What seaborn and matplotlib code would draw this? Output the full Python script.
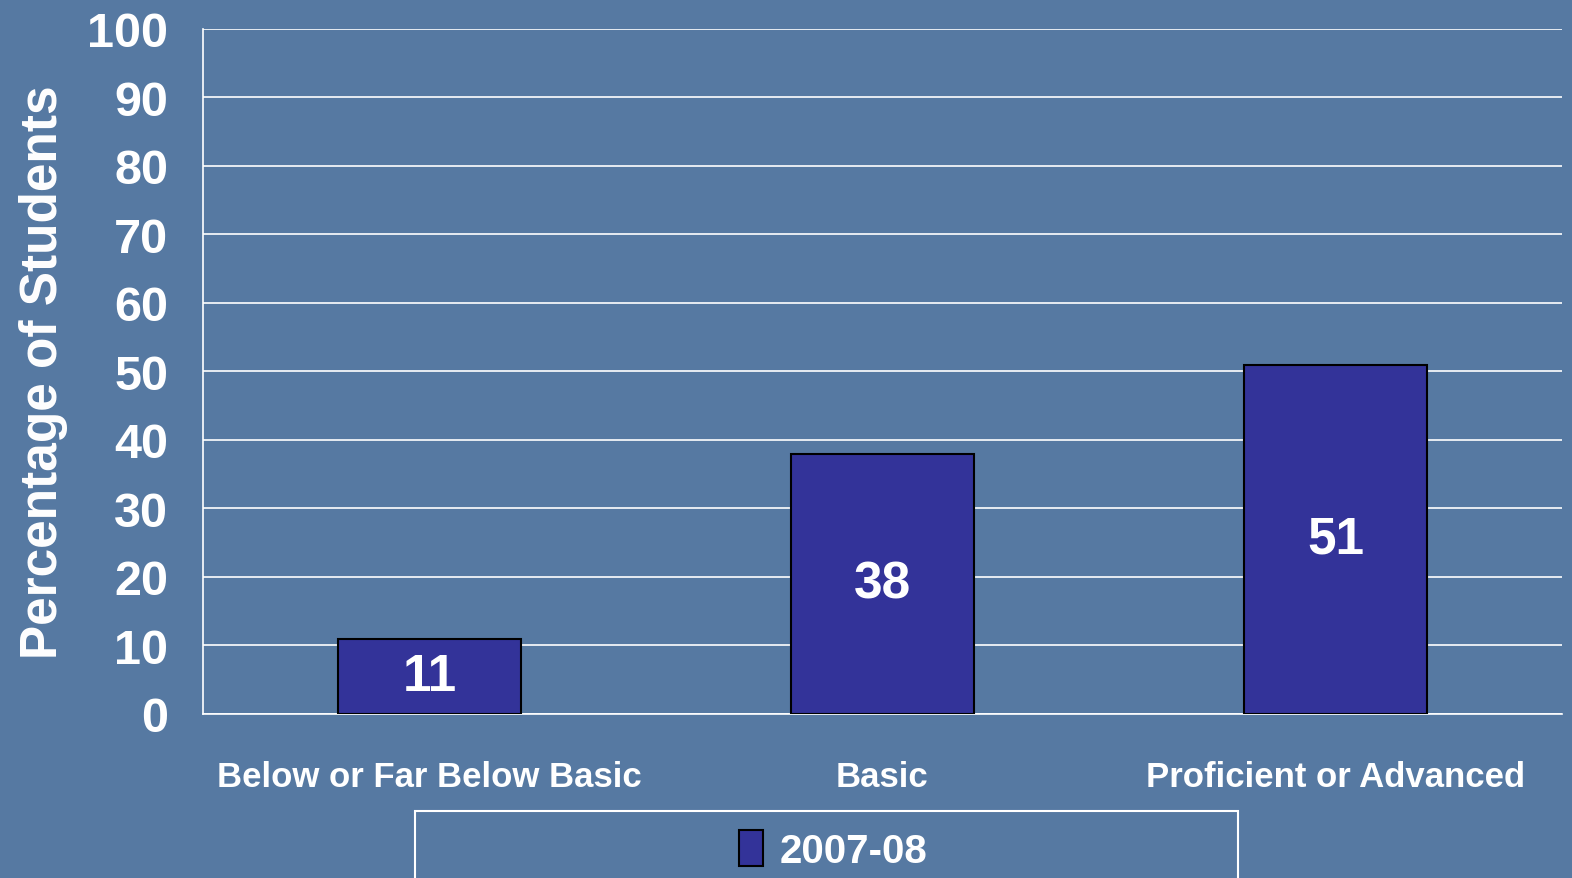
import matplotlib
matplotlib.use("Agg")
import matplotlib.pyplot as plt
import seaborn as sns
import pandas as pd
from matplotlib.patches import Rectangle

categories = ["Below or Far Below Basic", "Basic", "Proficient or Advanced"]
values = [11, 38, 51]
series_name = "2007-08"

bg = "#5679a2"
bar_color = "#333399"

sns.set_style("white")
plt.rcParams["font.family"] = ["Liberation Sans", "DejaVu Sans"]

df = pd.DataFrame({"level": categories, "pct": values, "year": series_name})

fig = plt.figure(figsize=(15.72, 8.79), dpi=100)
fig.patch.set_facecolor(bg)
ax = fig.add_axes([0.1291, 0.1866, 0.8645, 0.7793])
ax.set_facecolor(bg)

sns.barplot(data=df, x="level", y="pct", hue="year", palette=[bar_color],
            width=0.404, edgecolor="black", linewidth=1.5, saturation=1,
            ax=ax, legend=True, zorder=3)

ax.set_ylim(0, 100)
ax.set_xlim(-0.5, 2.5)
ax.set_yticks(range(0, 101, 10))
ax.yaxis.grid(True, color="white", linewidth=1.2, zorder=0)
ax.set_axisbelow(True)

for s in ["top", "right"]:
    ax.spines[s].set_visible(False)
for s in ["left", "bottom"]:
    ax.spines[s].set_color("white")
    ax.spines[s].set_linewidth(1.2)

ax.tick_params(axis="y", colors="white", length=11, width=1.2, pad=14,
               labelsize=35)
for t in ax.get_yticklabels():
    t.set_fontweight("bold")
ax.set_xticks([-0.5, 0.5, 1.5, 2.5], minor=True)
ax.tick_params(axis="x", which="major", length=0, pad=33, labelsize=25,
               colors="white")
ax.tick_params(axis="x", which="minor", length=6, width=1.2, color="white")
for t in ax.get_xticklabels():
    t.set_fontweight("bold")

ax.set_xlabel("")
ax.set_ylabel("Percentage of Students", color="white", fontsize=37,
              fontweight="bold", labelpad=14)

for c in ax.containers:
    ax.bar_label(c, labels=[str(v) for v in values], label_type="center",
                 color="white", fontsize=37, fontweight="bold")

# legend box below the chart
ax.get_legend().remove()
fig.patches.append(Rectangle((415 / 1572, -0.05), 823 / 1572, 0.05 + 67 / 879,
                             transform=fig.transFigure, fill=False,
                             edgecolor="white", linewidth=1.5))
handles, labels = ax.get_legend_handles_labels()
leg = fig.legend(handles, labels, loc="center", bbox_to_anchor=(833 / 1572, 1 - 851 / 879),
                 frameon=False, handlelength=0.6, handleheight=1.0,
                 handletextpad=0.4,
                 prop={"family": ["Liberation Sans Narrow", "Liberation Sans"], "weight": "bold", "size": 29})
for t in leg.get_texts():
    t.set_color("white")

fig.savefig("out.png", dpi=100, facecolor=bg)
